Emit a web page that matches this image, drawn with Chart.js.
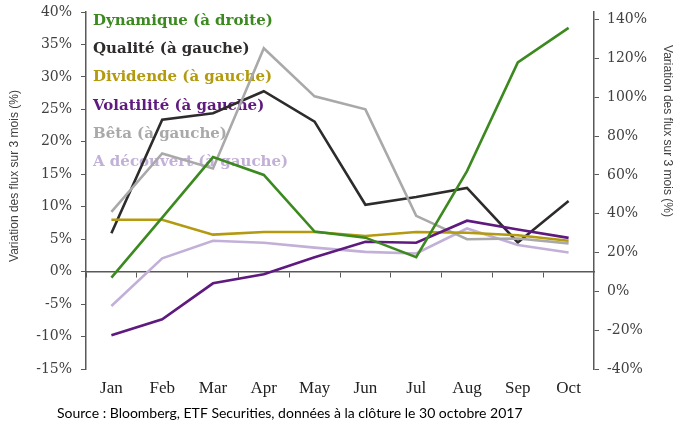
<!DOCTYPE html>
<html lang="fr">
<head>
<meta charset="utf-8">
<title>Flux ETF factoriels</title>
<script src="https://cdn.jsdelivr.net/npm/chart.js@4.4.1/dist/chart.umd.min.js"></script>
<style>
  html, body { margin: 0; padding: 0; background: #fff; }
  #wrap { width: 685px; height: 432px; position: relative; }
</style>
</head>
<body>
<div id="wrap"><canvas id="chart"></canvas></div>
<script>
// Variation des flux sur 3 mois, en %
const mois = ['Jan', 'Feb', 'Mar', 'Apr', 'May', 'Jun', 'Jul', 'Aug', 'Sep', 'Oct'];
const dynamique  = [7.1, 38, 69.2, 60, 30.8, 27.7, 17.6, 62, 118, 135.8];   // axe de droite
const qualite    = [5.9, 23.4, 24.4, 27.8, 23.1, 10.3, 11.5, 12.9, 4.5, 10.9];
const dividende  = [8.0, 8.0, 5.7, 6.1, 6.1, 5.5, 6.1, 6.0, 5.6, 4.75];
const volatilite = [-9.8, -7.35, -1.8, -0.4, 2.2, 4.6, 4.45, 7.85, 6.5, 5.2];
const beta       = [9.2, 18.2, 15.9, 34.4, 27.0, 25.0, 8.6, 5.0, 5.1, 4.35];
const decouvert  = [-5.3, 2.05, 4.75, 4.45, 3.7, 3.05, 2.8, 6.65, 4.1, 2.95];

const TICK_FONT = 'DejaVu Serif';
const AXIS_COLOR = '#595959';
const TEXT_COLOR = '#404040';

function serie(label, data, color, axis, order) {
    return {
        label, data, yAxisID: axis, order,
        borderColor: color, backgroundColor: color,
        borderWidth: 2.6, pointRadius: 0, tension: 0, fill: false
    };
}

// largeur fixe des axes verticaux, sans marge ajoutee pour les etiquettes
function axeFixe(width) {
    return s => {
        s.width = width;
        s.paddingTop = 0;
        s.paddingBottom = 0;
    };
}

// Legende en texte seul, en haut a gauche de la zone de trace, sous les courbes
const legendeTexte = {
    id: 'legendeTexte',
    beforeDatasetsDraw(chart) {
        const { ctx, chartArea } = chart;
        const items = chart.data.datasets.map(ds => ({ text: ds.label, color: ds.borderColor }));
        ctx.save();
        ctx.font = 'bold 15px "DejaVu Serif"';
        ctx.textBaseline = 'middle';
        ctx.textAlign = 'left';
        items.forEach((it, i) => {
            ctx.fillStyle = it.color;
            ctx.fillText(it.text, chartArea.left + 7, chartArea.top + 9 + i * 28.3);
        });
        ctx.restore();
    }
};

// Titres des deux axes verticaux et source sous le graphique
const titres = {
    id: 'titres',
    afterDraw(chart) {
        const { ctx } = chart;
        ctx.save();
        ctx.fillStyle = TEXT_COLOR;
        ctx.font = '12px "Liberation Sans"';
        ctx.textAlign = 'center';
        ctx.textBaseline = 'middle';
        const t = 'Variation des flux sur 3 mois (%)';

        ctx.save();
        ctx.translate(15, 176);
        ctx.rotate(-Math.PI / 2);
        ctx.fillText(t, 0, 0);
        ctx.restore();

        ctx.save();
        ctx.translate(667, 131);
        ctx.rotate(Math.PI / 2);
        ctx.fillText(t, 0, 0);
        ctx.restore();

        ctx.fillStyle = '#000';
        ctx.font = '14px Lato';
        ctx.textAlign = 'left';
        ctx.fillText('Source : Bloomberg, ETF Securities, données à la clôture le 30 octobre 2017', 57, 413);
        ctx.restore();
    }
};

const pct = v => v + '%';

new Chart(document.getElementById('chart'), {
    type: 'line',
    data: {
        labels: mois,
        datasets: [
            serie('Dynamique (à droite)', dynamique, '#3c8a1f', 'y2', 0),
            serie('Qualité (à gauche)', qualite, '#2e2b2b', 'y', 5),
            serie('Dividende (à gauche)', dividende, '#b39a0e', 'y', 2),
            serie('Volatilité (à gauche)', volatilite, '#5e1a7e', 'y', 1),
            serie('Bêta (à gauche)', beta, '#a9a9a9', 'y', 3),
            serie('A découvert (à gauche)', decouvert, '#c2b0d8', 'y', 4)
        ]
    },
    options: {
        responsive: true,
        maintainAspectRatio: false,
        animation: false,
        layout: { padding: { top: 12, left: 10, right: 0, bottom: 33 } },
        plugins: { legend: { display: false }, tooltip: { enabled: false } },
        scales: {
            x: {
                type: 'category',
                offset: true,
                grid: { display: false },
                border: { display: false },
                ticks: { color: '#222', padding: 1, font: { family: 'Liberation Serif', size: 17 } },
                afterFit(s) { s.height = 30; s.paddingLeft = 0; s.paddingRight = 0; }
            },
            // axe horizontal dessine au niveau du 0 % de gauche
            xz: {
                type: 'category',
                labels: mois,
                offset: true,
                position: { y: 0 },
                grid: { drawOnChartArea: false, drawTicks: true, tickLength: 5, color: AXIS_COLOR, offset: true },
                border: { display: true, color: AXIS_COLOR, width: 1.5 },
                ticks: { display: false }
            },
            y: {
                position: 'left',
                min: -15, max: 40,
                grid: { drawOnChartArea: false, tickLength: 5, color: AXIS_COLOR },
                border: { color: AXIS_COLOR, width: 1.5 },
                ticks: {
                    stepSize: 5, color: TEXT_COLOR, padding: 9,
                    font: { family: TICK_FONT, size: 14 }, callback: pct
                },
                afterFit: axeFixe(76)
            },
            y2: {
                position: 'right',
                min: -40, max: 144,
                grid: { drawOnChartArea: false, tickLength: 5, color: AXIS_COLOR },
                border: { color: AXIS_COLOR, width: 1.5 },
                ticks: {
                    stepSize: 20, includeBounds: false, color: TEXT_COLOR, padding: 8,
                    font: { family: TICK_FONT, size: 14 }, callback: pct
                },
                afterFit: axeFixe(91)
            }
        }
    },
    plugins: [legendeTexte, titres]
});
</script>
</body>
</html>
